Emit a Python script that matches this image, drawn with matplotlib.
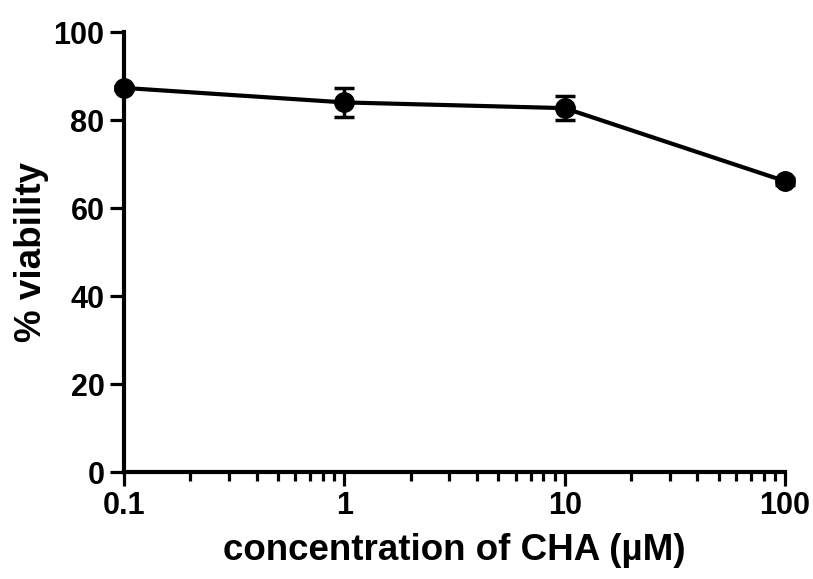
import matplotlib
matplotlib.use("Agg")
import matplotlib.pyplot as plt
from matplotlib.ticker import LogLocator, NullFormatter, FixedLocator, FixedFormatter

plt.rcParams['font.family'] = ['Liberation Sans', 'DejaVu Sans']

# CHA dose response
conc = [0.1, 1, 10, 100]
viability = [87.3, 84.0, 82.7, 66.1]
sem = [0.5, 3.3, 2.7, 0.8]

fig = plt.figure(figsize=(8.13, 5.79), dpi=100)
ax = fig.add_axes([0.1525, 0.1848, 0.8131, 0.7599])

ax.errorbar(conc, viability, yerr=sem, color='black', lw=3, marker='o', ms=14,
            capsize=7, capthick=2.5, elinewidth=2.5, clip_on=False, zorder=3)

ax.set_xscale('log')
ax.set_xlim(0.1, 100)
ax.set_ylim(0, 100)
ax.xaxis.set_major_locator(FixedLocator([0.1, 1, 10, 100]))
ax.xaxis.set_major_formatter(FixedFormatter(['0.1', '1', '10', '100']))
ax.xaxis.set_minor_locator(LogLocator(base=10, subs=range(2, 10)))
ax.xaxis.set_minor_formatter(NullFormatter())
ax.set_yticks([0, 20, 40, 60, 80, 100])

for side in ['top', 'right']:
    ax.spines[side].set_visible(False)
for side in ['left', 'bottom']:
    ax.spines[side].set_linewidth(3)

ax.tick_params(which='major', length=10, width=2.3, labelsize=22, pad=4)
ax.tick_params(which='minor', length=6.5, width=2.3)
for lbl in ax.get_xticklabels() + ax.get_yticklabels():
    lbl.set_fontweight('bold')

ax.set_xlabel('concentration of CHA (µM)', fontsize=26.5, fontweight='bold', labelpad=8)
ax.set_ylabel('% viability', fontsize=26.5, fontweight='bold', labelpad=3)

fig.savefig('out.png', dpi=100)
